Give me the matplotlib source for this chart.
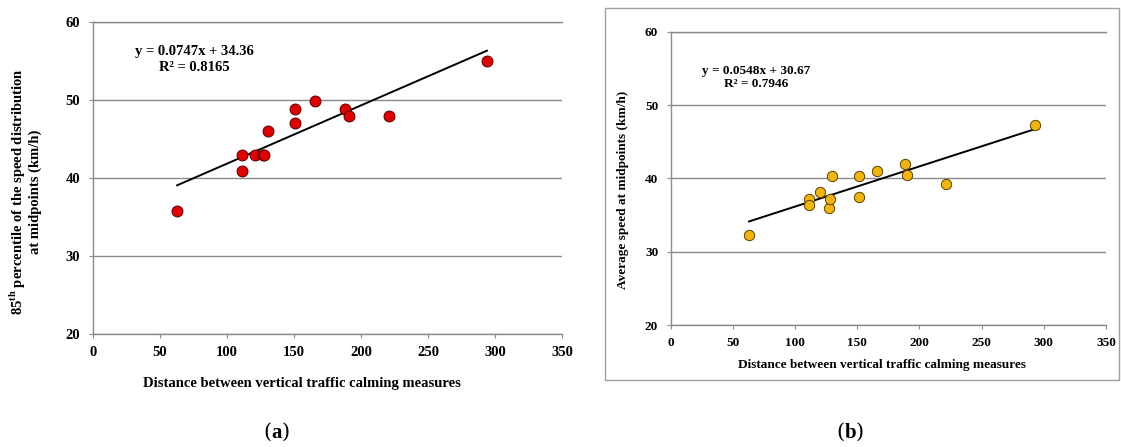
import matplotlib
matplotlib.use("Agg")
import matplotlib.pyplot as plt
from matplotlib.patches import Rectangle
import numpy as np

plt.rcParams['font.family'] = ['Liberation Serif', 'DejaVu Serif']
plt.rcParams['font.weight'] = 'bold'
plt.rcParams['mathtext.fontset'] = 'custom'
plt.rcParams['mathtext.rm'] = 'Liberation Serif:bold'
plt.rcParams['mathtext.bf'] = 'Liberation Serif:bold'

# (a) 85th percentile speed
dist_a = [63, 111, 111, 121, 127, 128, 131, 151, 151, 166, 188, 191, 221, 294]
v85_a = [35.8, 42.9, 40.9, 42.9, 42.9, 42.9, 46.0, 48.9, 47.0, 49.9, 48.9, 47.9, 47.9, 55.0]
slope_a, icpt_a, r2_a = 0.0747, 34.36, 0.8165

# (b) average speed
dist_b = [63, 111, 111, 120, 127, 128, 130, 151, 151, 166, 188, 190, 221, 293]
vavg_b = [32.3, 37.2, 36.4, 38.1, 35.9, 37.2, 40.3, 40.3, 37.5, 41.0, 42.0, 40.5, 39.2, 47.3]
slope_b, icpt_b, r2_b = 0.0548, 30.67, 0.7946

xticks = [0, 50, 100, 150, 200, 250, 300, 350]
yticks = [20, 30, 40, 50, 60]
xlabel = "Distance between vertical traffic calming measures"

W, H = 1121, 447
fig = plt.figure(figsize=(W / 100, H / 100), dpi=100)

grey = '#8a8a8a'


def px(x0, y0, x1, y1):
    # pixel box -> figure fraction [left, bottom, width, height]
    return [x0 / W, 1 - y1 / H, (x1 - x0) / W, (y1 - y0) / H]


def style(ax, fs):
    ax.set_xlim(0, 350)
    ax.set_ylim(20, 60)
    ax.set_xticks(xticks)
    ax.set_yticks(yticks)
    for s in ['top', 'right']:
        ax.spines[s].set_visible(False)
    for s in ['left', 'bottom']:
        ax.spines[s].set_color(grey)
        ax.spines[s].set_linewidth(1.0)
    ax.yaxis.grid(True, color=grey, linewidth=1.0)
    ax.set_axisbelow(True)
    ax.tick_params(axis='both', direction='out', length=3, width=0.8, color=grey,
                   labelsize=fs, pad=6)
    for lab in ax.get_xticklabels() + ax.get_yticklabels():
        lab.set_fontweight('bold')


def trend(ax, xs, m, c):
    xx = np.array([min(xs), max(xs)])
    ax.plot(xx, m * xx + c, color='black', linewidth=1.4, zorder=2)


# panel (a)
ax1 = fig.add_axes(px(92.7, 22, 562, 334))
style(ax1, 10.5)
ax1.axhline(60, color=grey, linewidth=1.0, clip_on=False)
trend(ax1, dist_a, slope_a, icpt_a)
ax1.scatter(dist_a, v85_a, s=62, color='#e00000', edgecolors='#5a0000',
            linewidths=0.7, zorder=3, clip_on=False)
ax1.text(75.5, 55.2, f"y = {slope_a}x + {icpt_a}\nR\u00b2 = {r2_a}", ha='center',
         va='center', multialignment='center', fontsize=10.5, linespacing=1.25)
fig.text(302 / W, 1 - 383 / H, xlabel, ha='center', va='center', fontsize=10.5)
fig.text(25 / W, 1 - 192 / H,
         "85$^{\\mathrm{th}}$ percentile of the speed distribution\nat midpoints (km/h)",
         rotation=90, ha='center', va='center', multialignment='center',
         fontsize=10.5, linespacing=1.1)

# panel (b) frame
fig.patches.append(Rectangle((605 / W, 1 - 380 / H), (1119 - 605) / W, (380 - 8) / H,
                             transform=fig.transFigure, fill=False,
                             edgecolor='#a0a0a0', linewidth=1.0))

ax2 = fig.add_axes(px(670.7, 31.7, 1106, 325))
style(ax2, 9.5)
ax2.axhline(60, color=grey, linewidth=1.0, clip_on=False)
trend(ax2, dist_b, slope_b, icpt_b)
ax2.scatter(dist_b, vavg_b, s=55, color='#f2b50f', edgecolors='#5a4000',
            linewidths=0.7, zorder=3, clip_on=False)
ax2.text(68.8, 53.75, f"y = {slope_b}x + {icpt_b}\nR\u00b2 = {r2_b}", ha='center',
         va='center', multialignment='center', fontsize=9.5, linespacing=1.2)
fig.text(881.5 / W, 1 - 365 / H, xlabel, ha='center', va='center', fontsize=9.5)
fig.text(623 / W, 1 - 190 / H, "Average speed at midpoints (km/h)", rotation=90,
         ha='center', va='center', fontsize=9.5)

# sub-captions
fig.text(277 / W, 1 - 432 / H, "($\\mathbf{a}$)", ha='center', va='center',
         fontsize=15, fontweight='normal', family='DejaVu Serif')
fig.text(850 / W, 1 - 432 / H, "($\\mathbf{b}$)", ha='center', va='center',
         fontsize=15, fontweight='normal', family='DejaVu Serif')

fig.savefig("out.png", dpi=100, facecolor='white')
